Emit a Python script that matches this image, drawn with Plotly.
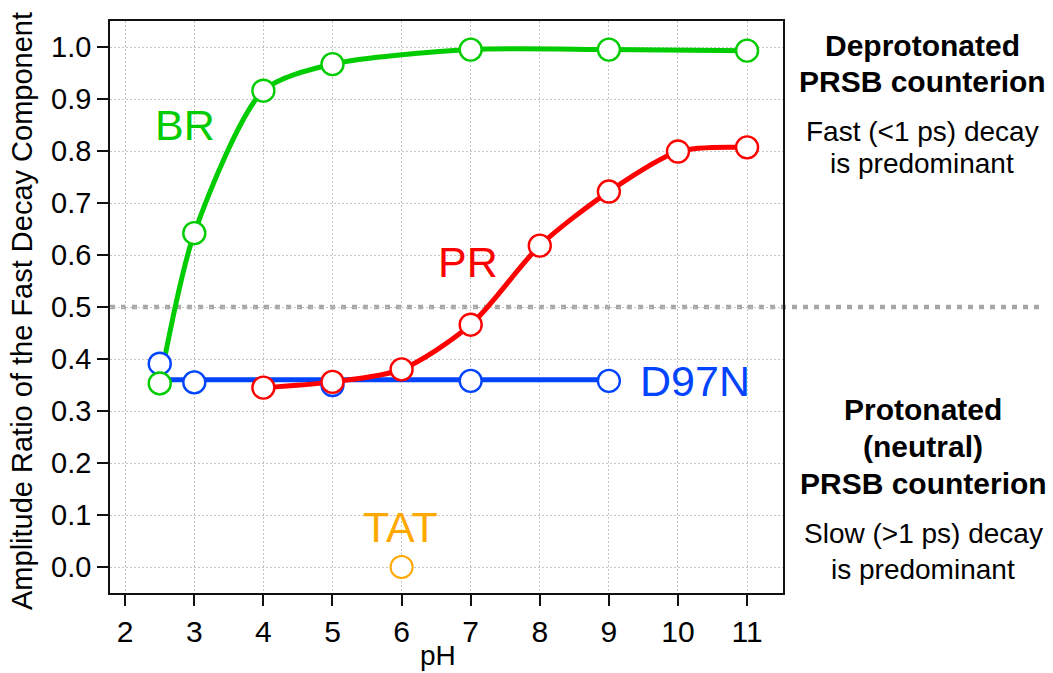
import plotly.graph_objects as go

# pH dependence of the fast-decay amplitude ratio
BR_PH = [2.5, 3, 4, 5, 7, 9, 11]
BR_RATIO = [0.353, 0.642, 0.916, 0.967, 0.995, 0.995, 0.993]

PR_PH = [4, 5, 6, 7, 8, 9, 10, 11]
PR_RATIO = [0.345, 0.356, 0.380, 0.466, 0.618, 0.722, 0.799, 0.807]

D97N_PH = [2.5, 3, 5, 7, 9]
D97N_RATIO = [0.391, 0.355, 0.350, 0.358, 0.358]
D97N_FIT_LEVEL = 0.36

TAT_PH = [6]
TAT_RATIO = [0.0]

REF_LEVEL = 0.5
X_RANGE = [1.78, 11.52]
Y_RANGE = [-0.05, 1.05]

GREEN = "#00CC00"
RED = "#FF0000"
BLUE = "#0044FF"
ORANGE = "#FFA800"
FONT = "Liberation Sans, Arial, Helvetica, sans-serif"

fig = go.Figure()

# fitted curves (drawn first so the markers sit on top)
fig.add_trace(go.Scatter(x=BR_PH, y=BR_RATIO, mode="lines",
                         line=dict(color=GREEN, width=5, shape="spline", smoothing=0.75),
                         hoverinfo="skip"))
fig.add_trace(go.Scatter(x=[D97N_PH[0], D97N_PH[-1]], y=[D97N_FIT_LEVEL, D97N_FIT_LEVEL],
                         mode="lines", line=dict(color=BLUE, width=5), hoverinfo="skip"))
fig.add_trace(go.Scatter(x=PR_PH, y=PR_RATIO, mode="lines",
                         line=dict(color=RED, width=5, shape="spline", smoothing=0.8),
                         hoverinfo="skip"))

# open-circle data points
def points(xs, ys, color, lw=2.4, size=22):
    return go.Scatter(x=xs, y=ys, mode="markers",
                      marker=dict(symbol="circle", size=size, color="white",
                                  line=dict(color=color, width=lw)))

fig.add_trace(points(D97N_PH, D97N_RATIO, BLUE))
fig.add_trace(points(BR_PH, BR_RATIO, GREEN))
fig.add_trace(points(PR_PH, PR_RATIO, RED))
fig.add_trace(points(TAT_PH, TAT_RATIO, ORANGE, lw=2))

# dotted reference line at 0.5, running out past the plot frame
ref_y = (REF_LEVEL - Y_RANGE[0]) / (Y_RANGE[1] - Y_RANGE[0])
fig.add_shape(type="line", xref="paper", yref="paper", x0=0, x1=1.389, y0=ref_y, y1=ref_y,
              line=dict(color="#A6A6A6", width=4.5, dash="5px,6px"), layer="below")

def label(text, x, y, color, size=43):
    fig.add_annotation(x=x, y=y, xref="x", yref="y", text=text, showarrow=False,
                       font=dict(family=FONT, size=size, color=color),
                       xanchor="center", yanchor="middle")

label("BR", 2.87, 0.85, GREEN)
label("PR", 6.96, 0.587, RED)
label("D97N", 10.25, 0.358, BLUE)
label("TAT", 5.99, 0.077, ORANGE)

def side(text, ypix, bold=False, xpix=922):
    fig.add_annotation(x=(xpix - 110) / 673, y=(593 - ypix) / 572, xref="paper", yref="paper",
                       text=f"<b>{text}</b>" if bold else text, showarrow=False,
                       font=dict(family=FONT, size=30 if bold else 28, color="black"),
                       xanchor="center", yanchor="middle")

side("Deprotonated", 45, True)
side("PRSB counterion", 81, True)
side("Fast (&lt;1 ps) decay", 131)
side("is predominant", 163)
side("Protonated", 410, True, 923)
side("(neutral)", 446, True, 923)
side("PRSB counterion", 483, True, 923)
side("Slow (&gt;1 ps) decay", 533, False, 923)
side("is predominant", 569, False, 923)

# axis titles
fig.add_annotation(x=(22 - 110) / 673, y=(593 - 311) / 572, xref="paper", yref="paper",
                   text="Amplitude Ratio of the Fast Decay Component", textangle=-90,
                   showarrow=False, font=dict(family=FONT, size=29, color="black"),
                   xanchor="center", yanchor="middle")
fig.add_annotation(x=(438 - 110) / 673, y=(593 - 655) / 572, xref="paper", yref="paper",
                   text="pH", showarrow=False, font=dict(family=FONT, size=28, color="black"),
                   xanchor="center", yanchor="middle")

axis_common = dict(showline=True, linecolor="#111", linewidth=1.5, mirror=True,
                   ticks="outside", tickwidth=1.5, tickcolor="#111",
                   showgrid=True, gridcolor="#C4C4C4", gridwidth=1, griddash="2px,2px",
                   zeroline=False)

fig.update_xaxes(range=X_RANGE, tickmode="array", tickvals=list(range(2, 12)),
                 ticklen=11, tickfont=dict(family=FONT, size=30, color="black"),
                 **axis_common)
fig.update_yaxes(range=Y_RANGE, tickmode="array",
                 tickvals=[i / 10 for i in range(11)],
                 ticktext=[f"{i / 10:.1f}" for i in range(11)],
                 ticklen=11, tickfont=dict(family=FONT, size=29, color="black"),
                 **axis_common)

fig.update_layout(width=1053, height=673, showlegend=False,
                  margin=dict(l=110, r=270, t=21, b=80),
                  paper_bgcolor="white", plot_bgcolor="rgba(0,0,0,0)",
                  font=dict(family=FONT))

fig.write_html("out.html")
